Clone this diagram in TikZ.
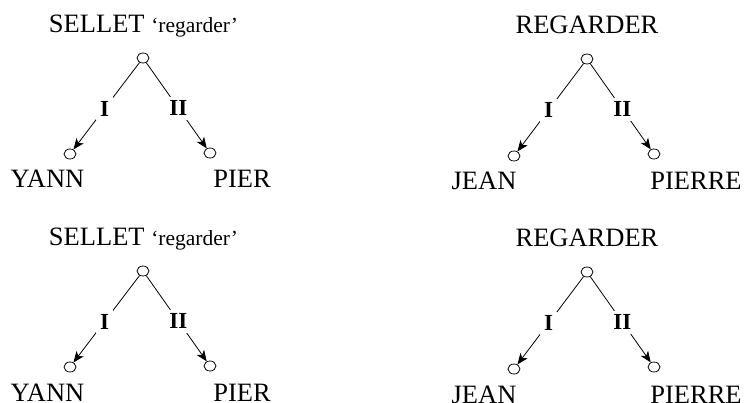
\documentclass[tikz,border=0pt]{standalone}
\usepackage{fontspec}
\setmainfont{Liberation Serif}
\usetikzlibrary{arrows.meta,shapes.geometric}
\tikzset{
  vert/.style={draw, ellipse, minimum width=12pt, minimum height=10pt, inner sep=0pt, line width=0.8pt},
  word/.style={anchor=base, inner sep=0pt, font=\fontsize{26.5}{30}\selectfont},
  rel/.style={pos=0.53, fill=white, inner sep=4pt, font=\bfseries\fontsize{23}{26}\selectfont},
  dep/.style={line width=0.8pt, -{Stealth[length=11pt,width=9pt,inset=3pt]}},
}
\begin{document}
\begin{tikzpicture}[x=1pt,y=-1pt]
\useasboundingbox (0,0) rectangle (744,403);
% tree 1 (top left)
\node[word] (t1) at (143.5,33) {SELLET {\fontsize{21.5}{24}\selectfont ‘regarder’}};
\node[vert] (r1) at (143,58) {};
\node[vert] (a1) at (70,154) {};
\node[vert] (b1) at (210,153) {};
\node[word] (wa1) at (47.5,188) {YANN};
\node[word] (wb1) at (242,188) {PIER};
\draw[dep] (r1) -- node[rel] (l1) {I} (a1);
\draw[dep] (r1) -- node[rel] (m1) {II} (b1);
% tree 2 (top right)
\node[word] (t2) at (587,34) {REGARDER};
\node[vert] (r2) at (587,59) {};
\node[vert] (a2) at (514,156) {};
\node[vert] (b2) at (654,154) {};
\node[word] (wa2) at (484,190) {JEAN};
\node[word] (wb2) at (696,190) {PIERRE};
\draw[dep] (r2) -- node[rel] (l2) {I} (a2);
\draw[dep] (r2) -- node[rel] (m2) {II} (b2);
% tree 3 (bottom left)
\node[word] (t3) at (143.5,246) {SELLET {\fontsize{21.5}{24}\selectfont ‘regarder’}};
\node[vert] (r3) at (143,271) {};
\node[vert] (a3) at (70,367) {};
\node[vert] (b3) at (210,366) {};
\node[word] (wa3) at (47.5,401) {YANN};
\node[word] (wb3) at (242,401) {PIER};
\draw[dep] (r3) -- node[rel] (l3) {I} (a3);
\draw[dep] (r3) -- node[rel] (m3) {II} (b3);
% tree 4 (bottom right)
\node[word] (t4) at (587,247) {REGARDER};
\node[vert] (r4) at (587,272) {};
\node[vert] (a4) at (514,369) {};
\node[vert] (b4) at (654,367) {};
\node[word] (wa4) at (484,403) {JEAN};
\node[word] (wb4) at (696,403) {PIERRE};
\draw[dep] (r4) -- node[rel] (l4) {I} (a4);
\draw[dep] (r4) -- node[rel] (m4) {II} (b4);
\end{tikzpicture}
\end{document}
